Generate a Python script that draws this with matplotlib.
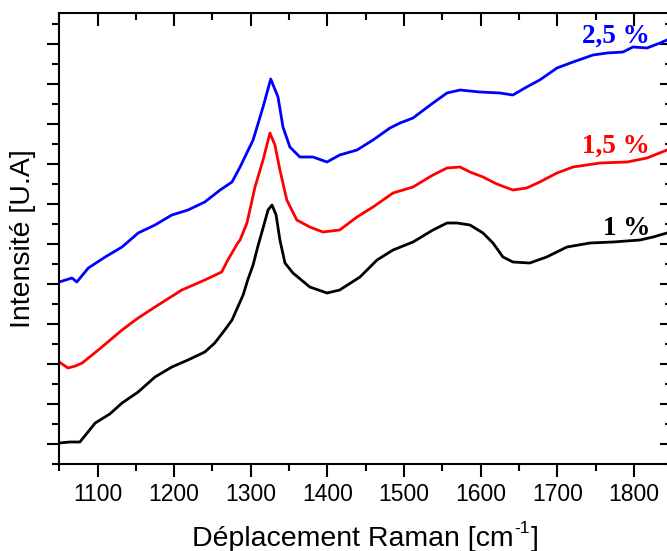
import matplotlib
matplotlib.use("Agg")
import matplotlib.pyplot as plt
import numpy as np

# --- data ---
wn_1 = [1050, 1064, 1077, 1097, 1116, 1132, 1153, 1175, 1197, 1218, 1240, 1253, 1266,
        1275.5, 1283, 1290, 1296, 1303, 1309, 1316, 1322.5, 1327.7, 1333, 1338, 1344.6,
        1355, 1377, 1399.5, 1416, 1442.5, 1464.7, 1485.6, 1511.7, 1537.7, 1556, 1569,
        1586, 1603, 1616, 1629, 1642, 1664, 1686, 1712.6, 1742.6, 1772.6, 1807.8, 1825,
        1843, 1850]
int_1 = [0.525, 0.55, 0.55, 1.025, 1.25, 1.525, 1.8, 2.175, 2.425, 2.6, 2.8, 3.025, 3.35,
         3.6, 3.925, 4.225, 4.6, 4.975, 5.425, 5.9, 6.35, 6.475, 6.225, 5.6, 5.025,
         4.775, 4.425, 4.275, 4.35, 4.675, 5.1, 5.35, 5.55, 5.85, 6.025, 6.025,
         5.975, 5.775, 5.525, 5.175, 5.05, 5.025, 5.175, 5.425, 5.525, 5.55, 5.6, 5.675,
         5.775, 5.825]

wn_15 = [1050, 1061.5, 1071, 1080, 1101, 1132, 1153, 1175, 1210, 1240, 1262, 1270, 1283,
         1286, 1295, 1305.5, 1316, 1325, 1331.5, 1338, 1347, 1360, 1377, 1394, 1416,
         1438.6, 1459.5, 1485.6, 1511.7, 1537.7, 1556, 1573, 1586, 1603, 1621, 1642,
         1660, 1677, 1699.5, 1720.5, 1755.7, 1791, 1817, 1843, 1850]
int_15 = [2.55, 2.4, 2.45, 2.525, 2.85, 3.35, 3.65, 3.925, 4.35, 4.6, 4.8, 5.1, 5.525,
          5.6, 6.025, 6.925, 7.6, 8.275, 7.975, 7.35, 6.6, 6.1, 5.925, 5.8, 5.85,
          6.175, 6.425, 6.775, 6.925, 7.225, 7.4, 7.425, 7.3, 7.175, 7.0, 6.85,
          6.9, 7.05, 7.275, 7.425, 7.525, 7.55, 7.65, 7.85, 7.9]

wn_25 = [1050, 1066.7, 1073, 1088, 1110, 1132, 1153, 1175, 1197, 1218, 1240, 1260, 1275.5,
         1286, 1303, 1316, 1326, 1335.5, 1342, 1351, 1364, 1381, 1399.5, 1416, 1438.6,
         1459.5, 1481.6, 1494.7, 1511.7, 1537.7, 1556, 1573, 1599, 1625, 1642, 1660,
         1677, 1699.5, 1720.5, 1746.5, 1764.8, 1785.7, 1798.7, 1817, 1834, 1843, 1850]
int_25 = [4.55, 4.65, 4.55, 4.9, 5.175, 5.425, 5.775, 5.975, 6.225, 6.35, 6.55, 6.85, 7.05,
          7.425, 8.1, 8.925, 9.625, 9.175, 8.425, 7.925, 7.675, 7.675, 7.55, 7.725, 7.85,
          8.1, 8.4, 8.525, 8.65, 9.025, 9.275, 9.35, 9.3, 9.275, 9.225, 9.425,
          9.6, 9.9, 10.05, 10.225, 10.275, 10.3, 10.425, 10.4, 10.525, 10.6, 10.65]

series_labels = ["1 %", "1,5 %", "2,5 %"]
series_colors = ["black", "red", "blue"]
label_pos_x = [1791, 1776.5, 1776.5]
label_pos_y = [5.725, 7.775, 10.525]

x_major = [1100, 1200, 1300, 1400, 1500, 1600, 1700, 1800]

# --- figure ---
fig = plt.figure(figsize=(6.67, 5.51), dpi=100)
W, H = 667, 551
left_px, right_px, top_px, bottom_px = 59.2, 672.3, 13, 464
ax = fig.add_axes([left_px / W, 1 - bottom_px / H,
                   (right_px - left_px) / W, (bottom_px - top_px) / H])

for wn, it, c in zip([wn_1, wn_15, wn_25], [int_1, int_15, int_25], series_colors):
    ax.plot(wn, it, color=c, lw=2.0, solid_joinstyle="round")

for lab, c, lx, ly in zip(series_labels, series_colors, label_pos_x, label_pos_y):
    ax.text(lx, ly, lab, color=c, ha="center", va="baseline",
            fontfamily="Liberation Serif", fontweight="bold", fontsize=19.5)

ax.set_xlim(1050, 1850)
ax.set_ylim(0, 11.275)

ax.set_xticks(x_major)
ax.set_xticklabels([str(v) for v in x_major], fontfamily="Liberation Sans", fontsize=16.5)
ax.set_xticks(np.arange(1050, 1851, 50), minor=True)
ax.set_yticks(np.arange(0.5, 11, 1.0))
ax.set_yticklabels([])
ax.set_yticks(np.arange(0, 11.3, 1.0), minor=True)

ax.tick_params(axis="x", which="major", direction="out", length=9, width=1.5, pad=5,
               top=True)
ax.tick_params(axis="x", which="minor", direction="out", length=5, width=1.5, top=True)
ax.tick_params(axis="y", which="major", direction="out", length=9, width=1.5, right=True)
ax.tick_params(axis="y", which="minor", direction="out", length=5, width=1.5, right=True)
# top and right ticks pointing inward
for t in ax.xaxis.get_major_ticks() + ax.xaxis.get_minor_ticks():
    t.tick2line.set_marker(3)  # TICKDOWN
for t in ax.yaxis.get_major_ticks() + ax.yaxis.get_minor_ticks():
    t.tick2line.set_marker(0)  # TICKLEFT

for s in ax.spines.values():
    s.set_linewidth(1.5)

# x label: main text + small superscript "-1" + closing bracket
xl_main = "Déplacement Raman [cm"
xl_sup = "-1"
xl_end = "]"
x0_px, y_base_px = 192, 546
t1 = fig.text(x0_px / W, 1 - y_base_px / H, xl_main, ha="left", va="baseline",
              fontfamily="Liberation Sans", fontsize=20.5)
fig.canvas.draw()
bb = t1.get_window_extent()
t2 = fig.text(bb.x1 / W + 0.5 / W, 1 - (y_base_px - 13) / H, xl_sup, ha="left",
              va="baseline", fontfamily="Liberation Sans", fontsize=12.5)
fig.canvas.draw()
bb2 = t2.get_window_extent()
fig.text(bb2.x1 / W + 1 / W, 1 - y_base_px / H, xl_end, ha="left", va="baseline",
         fontfamily="Liberation Sans", fontsize=20.5)

fig.text(23 / W, 1 - 239 / H, "Intensité [U.A]", rotation=90,
         ha="center", va="center", fontfamily="Liberation Sans", fontsize=20.5)

fig.savefig("out.png", dpi=100)
